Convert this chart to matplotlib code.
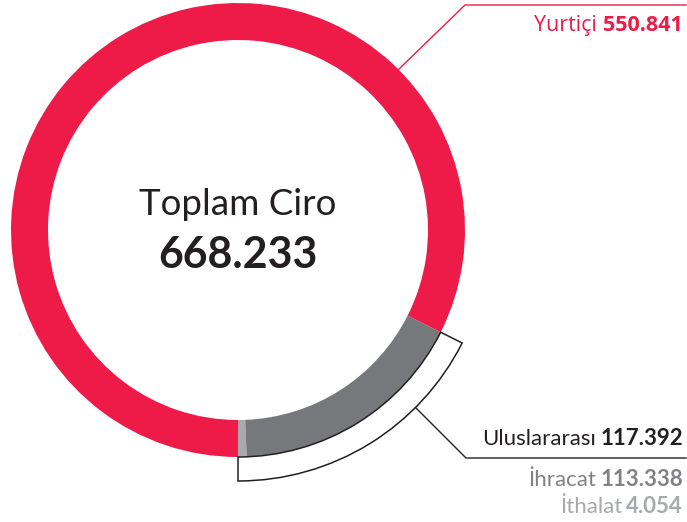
import matplotlib
matplotlib.use("Agg")
import matplotlib.pyplot as plt
from matplotlib.patches import Wedge
import numpy as np

# veriler (milyon TL)
dilimler = ["İthalat", "İhracat", "Yurtiçi"]
degerler = [4.054, 113.338, 550.841]
renkler = ["#A7A9AC", "#77787B", "#EE1A48"]
toplam = 668.233
uluslararasi = 117.392

W, H = 687, 522
fig = plt.figure(figsize=(W / 100, H / 100), dpi=100)
ax = fig.add_axes([0, 0, 1, 1])

merkez = (238, 292)
r_dis = 227
genislik = 37

ax.pie(degerler, colors=renkler, startangle=-90, counterclock=True,
       center=merkez, radius=r_dis, frame=True,
       wedgeprops=dict(width=genislik, linewidth=0))

# uluslararası dilimi çevreleyen dış yay
aci_bitis = -90 + 360 * uluslararasi / toplam
yay = Wedge(merkez, r_dis + 24, -90, aci_bitis, width=24,
            facecolor="white", edgecolor="#231F20", linewidth=1.1)
ax.add_patch(yay)

def nokta(r, aci):
    a = np.deg2rad(aci)
    return merkez[0] + r * np.cos(a), merkez[1] + r * np.sin(a)

# yurtiçi çizgisi
x0, y0 = nokta(r_dis, 45)
ax.plot([x0, 465, 686], [y0, H - 5, H - 5], color="#EE1A48", lw=1.0,
        solid_joinstyle="miter")

# uluslararası çizgisi
x1, y1 = nokta(r_dis + 24, -45)
ax.plot([x1, 466, 686], [y1, H - 458, H - 458], color="#231F20", lw=1.0,
        solid_joinstyle="miter")

ax.set_xlim(0, W)
ax.set_ylim(0, H)
ax.set_aspect("equal")
ax.axis("off")

# orta yazı
ax.text(merkez[0], H - 215, "Toplam Ciro", ha="center", va="baseline",
        fontsize=26.5, family="Lato", color="#231F20")
ax.text(merkez[0], H - 268, f"{toplam:.3f}", ha="center", va="baseline",
        fontsize=31, family="Lato", fontweight="bold", color="#231F20")

def etiket(ad, deger, y, renk, boyut, font, bosluk=4):
    sayi = ax.text(683, H - y, f"{deger:.3f}", ha="right", va="baseline",
                   fontsize=boyut, family=font, fontweight="bold", color=renk)
    fig.canvas.draw()
    bb = sayi.get_window_extent().transformed(ax.transData.inverted())
    ax.text(bb.x0 - bosluk, H - y, ad, ha="right", va="baseline",
            fontsize=boyut, family=font, color=renk)

etiket("Yurtiçi", degerler[2], 31, "#EE1A48", 15.5, "Open Sans", 6)
etiket("Uluslararası", uluslararasi, 445, "#231F20", 16, "Lato")
etiket("İhracat", degerler[1], 486, "#808285", 16, "Lato")
etiket("İthalat", degerler[0], 513, "#A7A9AC", 16, "Lato")

fig.savefig("out.png", dpi=100)
